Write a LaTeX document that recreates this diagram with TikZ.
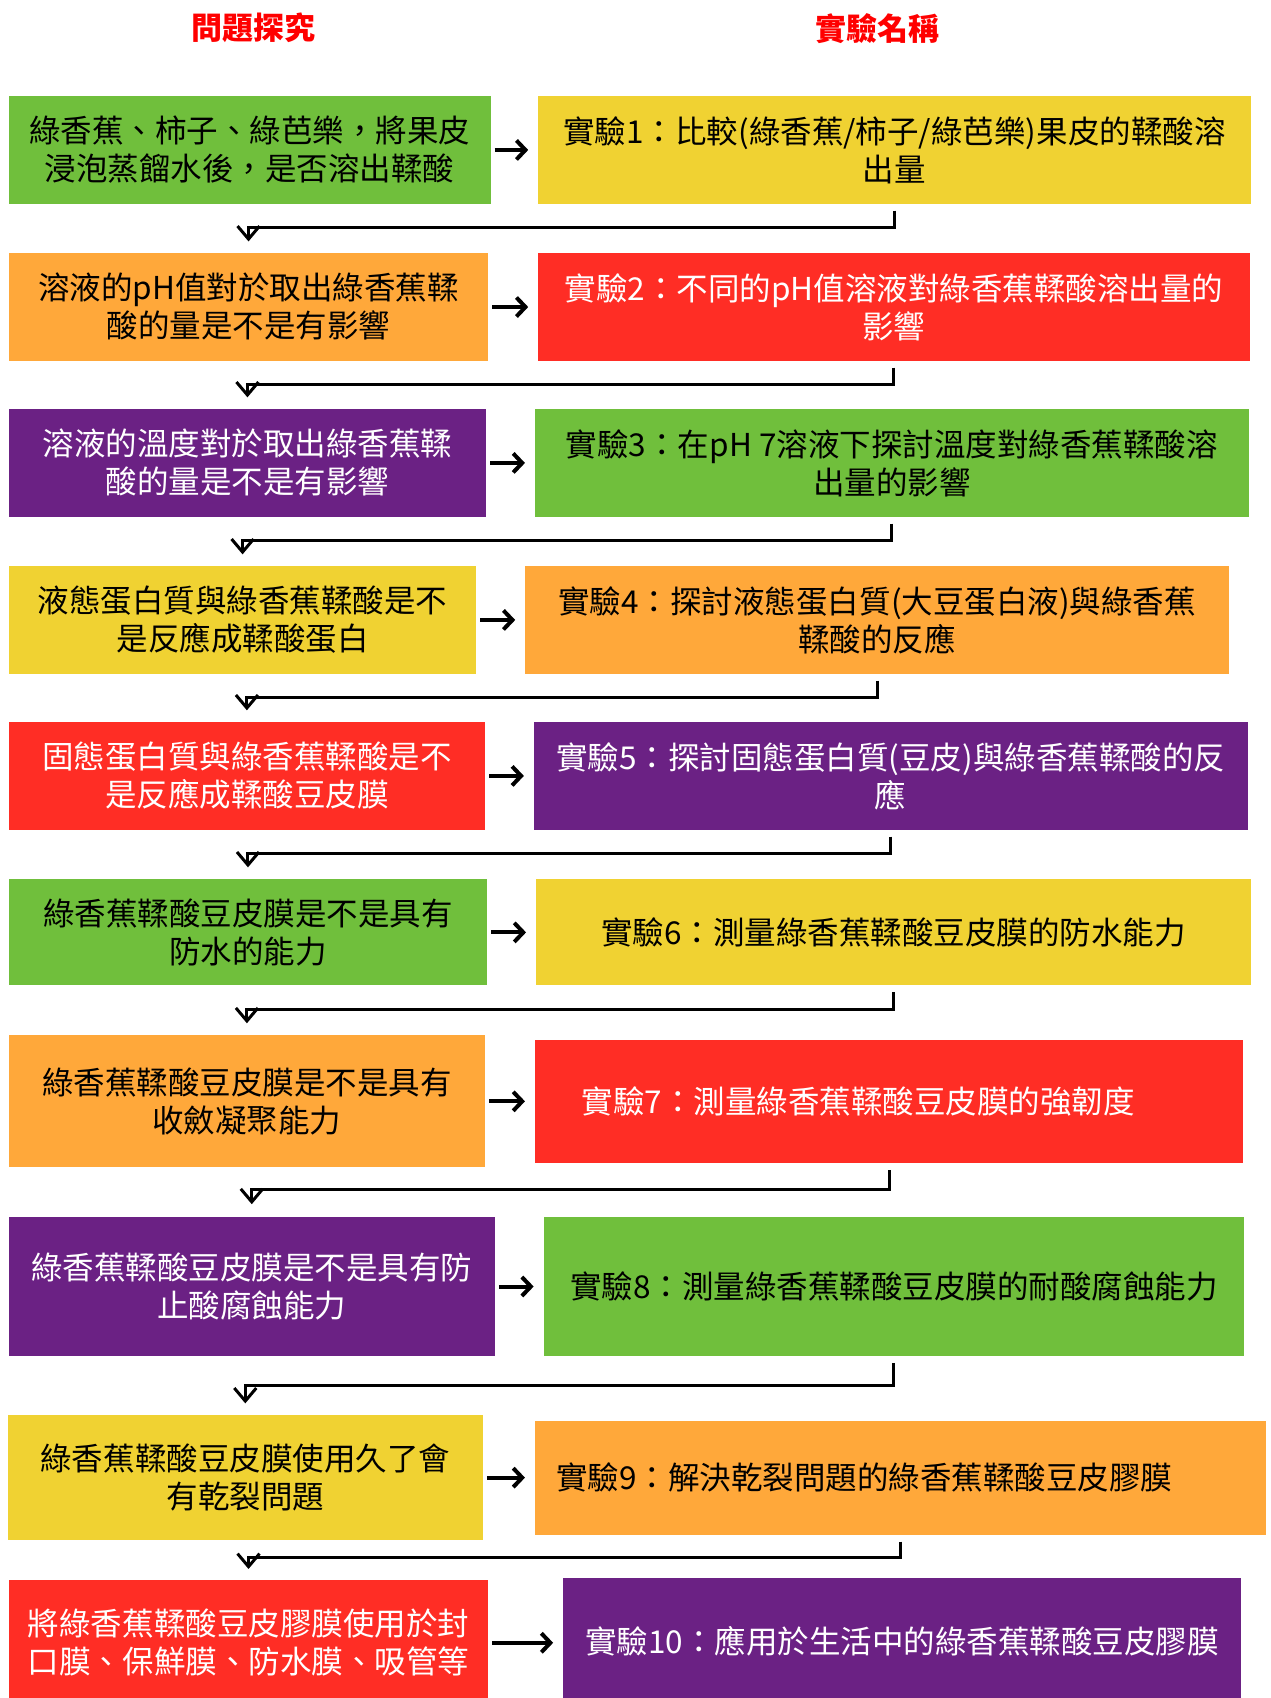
\documentclass[tikz,border=0pt]{standalone}
\usepackage{fontspec}
\setmainfont{Noto Sans CJK TC}
\usetikzlibrary{arrows.meta}
\definecolor{cgreen}{RGB}{112,191,60}
\definecolor{cyellow}{RGB}{240,210,50}
\definecolor{corange}{RGB}{255,168,58}
\definecolor{cred}{RGB}{255,45,37}
\definecolor{cpurple}{RGB}{107,33,132}
\newcommand\flowbox[7]{%
  \pgfmathsetmacro\fbw{(#4-#2)*1.08269}%
  \pgfmathsetmacro\fbh{(#5-#3)*1.08269}%
  \node[flow,#6,minimum width=\fbw pt,minimum height=\fbh pt] (#1) at ({(#2+#4)/2},{(#3+#5)/2}) {#7};%
}
\begin{document}
\begin{tikzpicture}[x=1.08269pt,y=-1.08269pt,
  flow/.style={inner sep=0pt,outer sep=0pt,align=center,font=\fontsize{31.5pt}{38pt}\selectfont},
  gbox/.style={fill=cgreen,text=black},
  ybox/.style={fill=cyellow,text=black},
  obox/.style={fill=corange,text=black},
  rbox/.style={fill=cred,text=white},
  pbox/.style={fill=cpurple,text=white},
  title/.style={text=red,font=\fontsize{31pt}{36pt}\selectfont\bfseries},
  hconn/.style={-{Straight Barb[length=9pt,width=19pt]},line width=4pt,shorten <=4pt,shorten >=10pt},
  dconn/.style={-{Straight Barb[length=13pt,width=22pt]},line width=3pt}]
\clip (0,0) rectangle (1173,1568);
\fill[white] (0,0) rectangle (1173,1568);
\node[title] (t1) at (234,26) {問題探究};
\node[title] (t2) at (810,26) {實驗名稱};
\flowbox{L1}{8}{89}{453}{188}{gbox}{綠香蕉、柿子、綠芭樂，將果皮\\浸泡蒸餾水後，是否溶出鞣酸}
\flowbox{R1}{497}{89}{1155}{188}{ybox}{實驗1：比較(綠香蕉/柿子/綠芭樂)果皮的鞣酸溶\\出量}
\flowbox{L2}{8}{234}{451}{333}{obox}{溶液的pH值對於取出綠香蕉鞣\\酸的量是不是有影響}
\flowbox{R2}{497}{234}{1154}{333}{rbox}{實驗2：不同的pH值溶液對綠香蕉鞣酸溶出量的\\影響}
\flowbox{L3}{8}{378}{449}{477}{pbox}{溶液的溫度對於取出綠香蕉鞣\\酸的量是不是有影響}
\flowbox{R3}{494}{378}{1153}{477}{gbox}{實驗3：在pH 7溶液下探討溫度對綠香蕉鞣酸溶\\出量的影響}
\flowbox{L4}{8}{523}{440}{622}{ybox}{液態蛋白質與綠香蕉鞣酸是不\\是反應成鞣酸蛋白}
\flowbox{R4}{485}{523}{1135}{622}{obox}{實驗4：探討液態蛋白質(大豆蛋白液)與綠香蕉\\鞣酸的反應}
\flowbox{L5}{8}{667}{448}{766}{rbox}{固態蛋白質與綠香蕉鞣酸是不\\是反應成鞣酸豆皮膜}
\flowbox{R5}{493}{667}{1152}{766}{pbox}{實驗5：探討固態蛋白質(豆皮)與綠香蕉鞣酸的反\\應}
\flowbox{L6}{8}{812}{450}{910}{gbox}{綠香蕉鞣酸豆皮膜是不是具有\\防水的能力}
\flowbox{R6}{495}{812}{1155}{910}{ybox}{實驗6：測量綠香蕉鞣酸豆皮膜的防水能力}
\flowbox{L7}{8}{956}{448}{1078}{obox}{綠香蕉鞣酸豆皮膜是不是具有\\收斂凝聚能力}
\flowbox{R7}{494}{960}{1148}{1074}{rbox}{實驗7：測量綠香蕉鞣酸豆皮膜的強韌度\hspace*{62pt}}
\flowbox{L8}{8}{1124}{457}{1252}{pbox}{綠香蕉鞣酸豆皮膜是不是具有防\\止酸腐蝕能力}
\flowbox{R8}{502}{1124}{1149}{1252}{gbox}{實驗8：測量綠香蕉鞣酸豆皮膜的耐酸腐蝕能力}
\flowbox{L9}{7}{1307}{446}{1422}{ybox}{綠香蕉鞣酸豆皮膜使用久了會\\有乾裂問題}
\flowbox{R9}{494}{1312}{1169}{1417}{obox}{實驗9：解決乾裂問題的綠香蕉鞣酸豆皮膠膜\hspace*{72pt}}
\flowbox{L10}{8}{1459}{451}{1575}{rbox}{將綠香蕉鞣酸豆皮膠膜使用於封\\口膜、保鮮膜、防水膜、吸管等}
\flowbox{R10}{520}{1457}{1146}{1575}{pbox}{實驗10：應用於生活中的綠香蕉鞣酸豆皮膠膜}
% horizontal arrows
\draw[hconn] (L1.east) -- (L1.east -| R1.west);
\draw[hconn] (L2.east) -- (L2.east -| R2.west);
\draw[hconn] (L3.east) -- (L3.east -| R3.west);
\draw[hconn] (L4.east) -- (L4.east -| R4.west);
\draw[hconn] (L5.east) -- (L5.east -| R5.west);
\draw[hconn] (L6.east) -- (L6.east -| R6.west);
\draw[hconn] (L7.east) -- (L7.east -| R7.west);
\draw[hconn] (L8.east) -- (L8.east -| R8.west);
\draw[hconn] (L9.east) -- (L9.east -| R9.west);
\draw[hconn] (L10.east) -- (L10.east -| R10.west);
% down connectors
\draw[dconn] ([yshift=-7pt]R1.south) -- ++(0,16) -| ([yshift=12pt]L2.north);
\draw[dconn] ([yshift=-7pt]R2.south) -- ++(0,16) -| ([yshift=12pt]L3.north);
\draw[dconn] ([yshift=-7pt]R3.south) -- ++(0,16) -| ([yshift=12pt]L4.north);
\draw[dconn] ([yshift=-7pt]R4.south) -- ++(0,16) -| ([yshift=12pt]L5.north);
\draw[dconn] ([yshift=-7pt]R5.south) -- ++(0,16) -| ([yshift=12pt]L6.north);
\draw[dconn] ([yshift=-7pt]R6.south) -- ++(0,16) -| ([yshift=12pt]L7.north);
\draw[dconn] ([yshift=-7pt]R7.south) -- ++(0,18) -| ([yshift=13pt]L8.north);
\draw[dconn] ([yshift=-7pt]R8.south) -- ++(0,21) -| ([yshift=12pt]L9.north);
\draw[dconn] ([yshift=-7pt]R9.south) -- ++(0,15) -| ([yshift=11pt]L10.north);
\end{tikzpicture}
\end{document}
